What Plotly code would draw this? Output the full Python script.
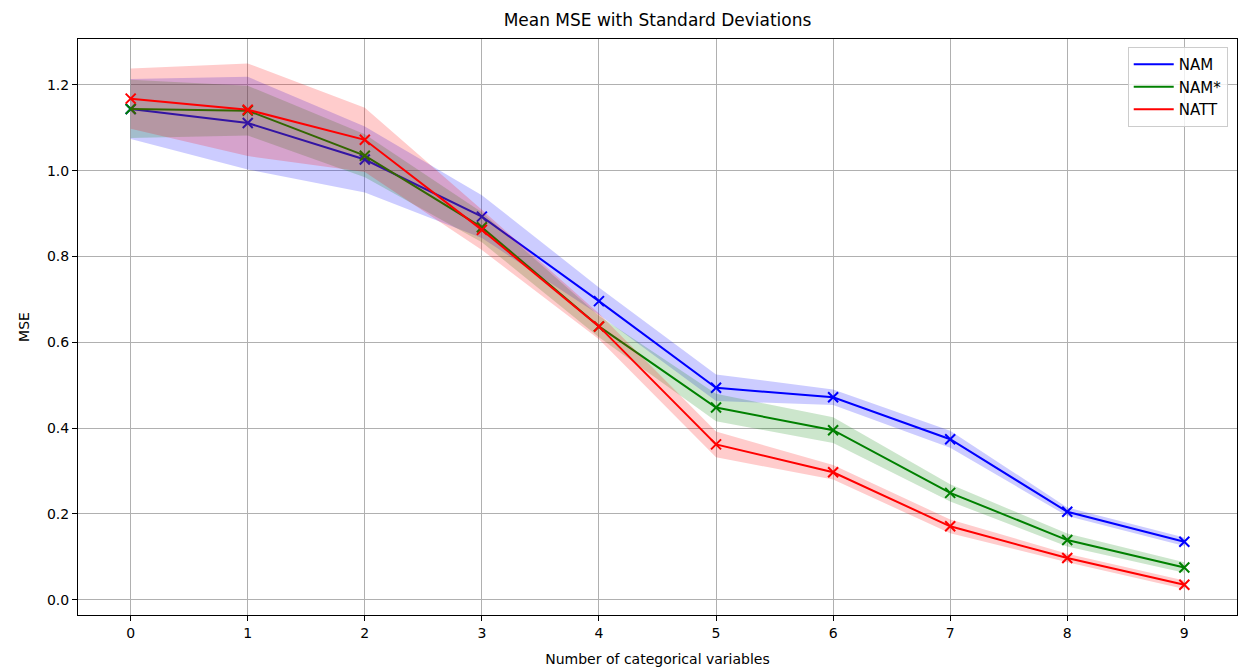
import plotly.graph_objects as go

x_vals = [0, 1, 2, 3, 4, 5, 6, 7, 8, 9]

nam_mean = [1.144, 1.111, 1.026, 0.893, 0.696, 0.494, 0.472, 0.374, 0.205, 0.135]
nam_std = [0.070, 0.108, 0.077, 0.050, 0.032, 0.031, 0.018, 0.020, 0.010, 0.010]

namstar_mean = [1.144, 1.140, 1.035, 0.868, 0.637, 0.448, 0.395, 0.249, 0.139, 0.075]
namstar_std = [0.068, 0.058, 0.050, 0.035, 0.025, 0.032, 0.030, 0.020, 0.015, 0.012]

natt_mean = [1.168, 1.142, 1.072, 0.862, 0.637, 0.362, 0.297, 0.171, 0.097, 0.035]
natt_std = [0.070, 0.108, 0.075, 0.047, 0.030, 0.030, 0.017, 0.016, 0.010, 0.010]

series = [
    ("NAM", nam_mean, nam_std, "#0000ff", "rgba(0,0,255,0.2)"),
    ("NAM*", namstar_mean, namstar_std, "#008000", "rgba(0,128,0,0.2)"),
    ("NATT", natt_mean, natt_std, "#ff0000", "rgba(255,0,0,0.2)"),
]

fig = go.Figure()
for name, mean, std, color, fillc in series:
    lower = [m - s for m, s in zip(mean, std)]
    upper = [m + s for m, s in zip(mean, std)]
    fig.add_trace(go.Scatter(x=x_vals, y=mean, mode="lines", name=name,
                             line=dict(color=color, width=2), showlegend=True))
    fig.add_trace(go.Scatter(x=x_vals, y=mean, mode="markers", showlegend=False,
                             marker=dict(symbol="x-thin", size=10, color=color,
                                         line=dict(color=color, width=2))))
    fig.add_trace(go.Scatter(x=x_vals, y=lower, mode="lines", line=dict(width=0, color=fillc),
                             showlegend=False, hoverinfo="skip"))
    fig.add_trace(go.Scatter(x=x_vals, y=upper, mode="lines", line=dict(width=0, color=fillc),
                             fill="tonexty", fillcolor=fillc, showlegend=False, hoverinfo="skip"))

axis_common = dict(
    showline=True, linecolor="black", linewidth=1, mirror=True,
    showgrid=True, gridcolor="#b0b0b0", gridwidth=0.8,
    ticks="outside", ticklen=5, tickcolor="black", tickwidth=1,
    zeroline=False, tickfont=dict(size=14, color="black"),
)

fig.update_layout(
    width=1238, height=671,
    margin=dict(l=78, r=1, t=39, b=56),
    paper_bgcolor="white", plot_bgcolor="white",
    font=dict(family="DejaVu Sans", color="black", size=14),
    title=dict(text="Mean MSE with Standard Deviations", x=0.5, xref="paper", xanchor="center",
               y=1 - 20 / 671, yanchor="middle", font=dict(size=17)),
    xaxis=dict(range=[-0.45, 9.45], tickmode="array", tickvals=x_vals,
               title=dict(text="Number of categorical variables", font=dict(size=14), standoff=14),
               **axis_common),
    yaxis=dict(range=[-0.0357, 1.307], tickmode="array",
               tickvals=[0.0, 0.2, 0.4, 0.6, 0.8, 1.0, 1.2],
               ticktext=["0.0", "0.2", "0.4", "0.6", "0.8", "1.0", "1.2"],
               title=dict(text="MSE", font=dict(size=14), standoff=14),
               **axis_common),
    legend=dict(x=0.992, y=0.986, xanchor="right", yanchor="top", traceorder="normal",
                bgcolor="rgba(255,255,255,0.8)", bordercolor="#cccccc", borderwidth=1,
                font=dict(size=15), itemwidth=40),
    showlegend=True,
)

fig.write_html("out.html")
